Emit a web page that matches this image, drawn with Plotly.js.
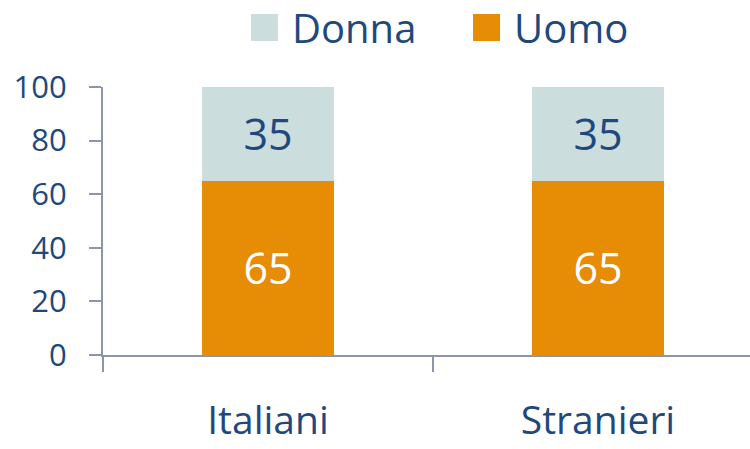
<!DOCTYPE html>
<html>
<head>
<meta charset="utf-8">
<script src="https://cdn.plot.ly/plotly-3.0.1.min.js"></script>
<style>html,body{margin:0;padding:0;background:#fff;}#chart{width:750px;height:449px;}</style>
</head>
<body>
<div id="chart"></div>
<script>
var categories = ["Italiani", "Stranieri"];
var seriesNames = ["Uomo", "Donna"];
var uomoValues = [65, 65];
var donnaValues = [35, 35];
var yTickValues = [0, 20, 40, 60, 80, 100];

var textColor = "#1F497D";
var axisColor = "#8C96AA";
var uomoColor = "#E68C05";
var donnaColor = "#CBDDDD";
var font = "Open Sans, Liberation Sans, sans-serif";

var traces = [
  {
    type: "bar", name: seriesNames[0], x: categories, y: uomoValues,
    marker: {color: uomoColor}, width: 0.4,
    text: uomoValues.map(String), textposition: "inside", insidetextanchor: "middle",
    textangle: 0, constraintext: "none",
    textfont: {family: font, size: 43, color: "#FFFFFF"},
    hoverinfo: "skip", showlegend: false
  },
  {
    type: "bar", name: seriesNames[1], x: categories, y: donnaValues,
    marker: {color: donnaColor}, width: 0.4,
    text: donnaValues.map(String), textposition: "inside", insidetextanchor: "middle",
    textangle: 0, constraintext: "none",
    textfont: {family: font, size: 43, color: textColor},
    hoverinfo: "skip", showlegend: false
  }
];

// custom legend (large squares as in the reference): Donna first, then Uomo
var legendItems = [
  {name: seriesNames[1], color: donnaColor, x0: 251, tx: 290},
  {name: seriesNames[0], color: uomoColor, x0: 473, tx: 512}
];
var shapes = [], annotations = [];
legendItems.forEach(function (it) {
  shapes.push({type: "rect", xref: "paper", yref: "paper",
    x0: (it.x0 - 103) / 647, x1: (it.x0 + 27 - 103) / 647,
    y0: (355 - 41) / 268, y1: (355 - 14) / 268,
    fillcolor: it.color, line: {width: 0}});
  annotations.push({xref: "paper", yref: "paper",
    x: (it.tx - 103) / 647, y: (355 - 27.5) / 268,
    xanchor: "left", yanchor: "middle", showarrow: false,
    text: it.name, font: {family: font, size: 40, color: textColor}});
});

var layout = {
  width: 750, height: 449,
  margin: {l: 103, r: 0, t: 87, b: 94, pad: 0},
  paper_bgcolor: "#FFFFFF", plot_bgcolor: "#FFFFFF",
  barmode: "stack",
  showlegend: false,
  font: {family: font, color: textColor},
  xaxis: {
    type: "category", range: [-0.5, 1.4606],
    showline: true, linecolor: axisColor, linewidth: 2,
    ticks: "outside", tickson: "boundaries", ticklen: 15, tickwidth: 2, tickcolor: axisColor,
    showgrid: false, zeroline: false,
    tickfont: {family: font, size: 39, color: textColor},
    ticklabelstandoff: 30
  },
  yaxis: {
    range: [0, 100], tickvals: yTickValues, ticktext: yTickValues.map(String),
    showline: true, linecolor: axisColor, linewidth: 2,
    ticks: "outside", ticklen: 12, tickwidth: 2, tickcolor: axisColor,
    showgrid: false, zeroline: false,
    tickfont: {family: font, size: 31, color: textColor},
    ticklabelstandoff: 16
  },
  shapes: shapes,
  annotations: annotations
};

Plotly.newPlot("chart", traces, layout, {staticPlot: true, displayModeBar: false});
</script>
</body>
</html>
